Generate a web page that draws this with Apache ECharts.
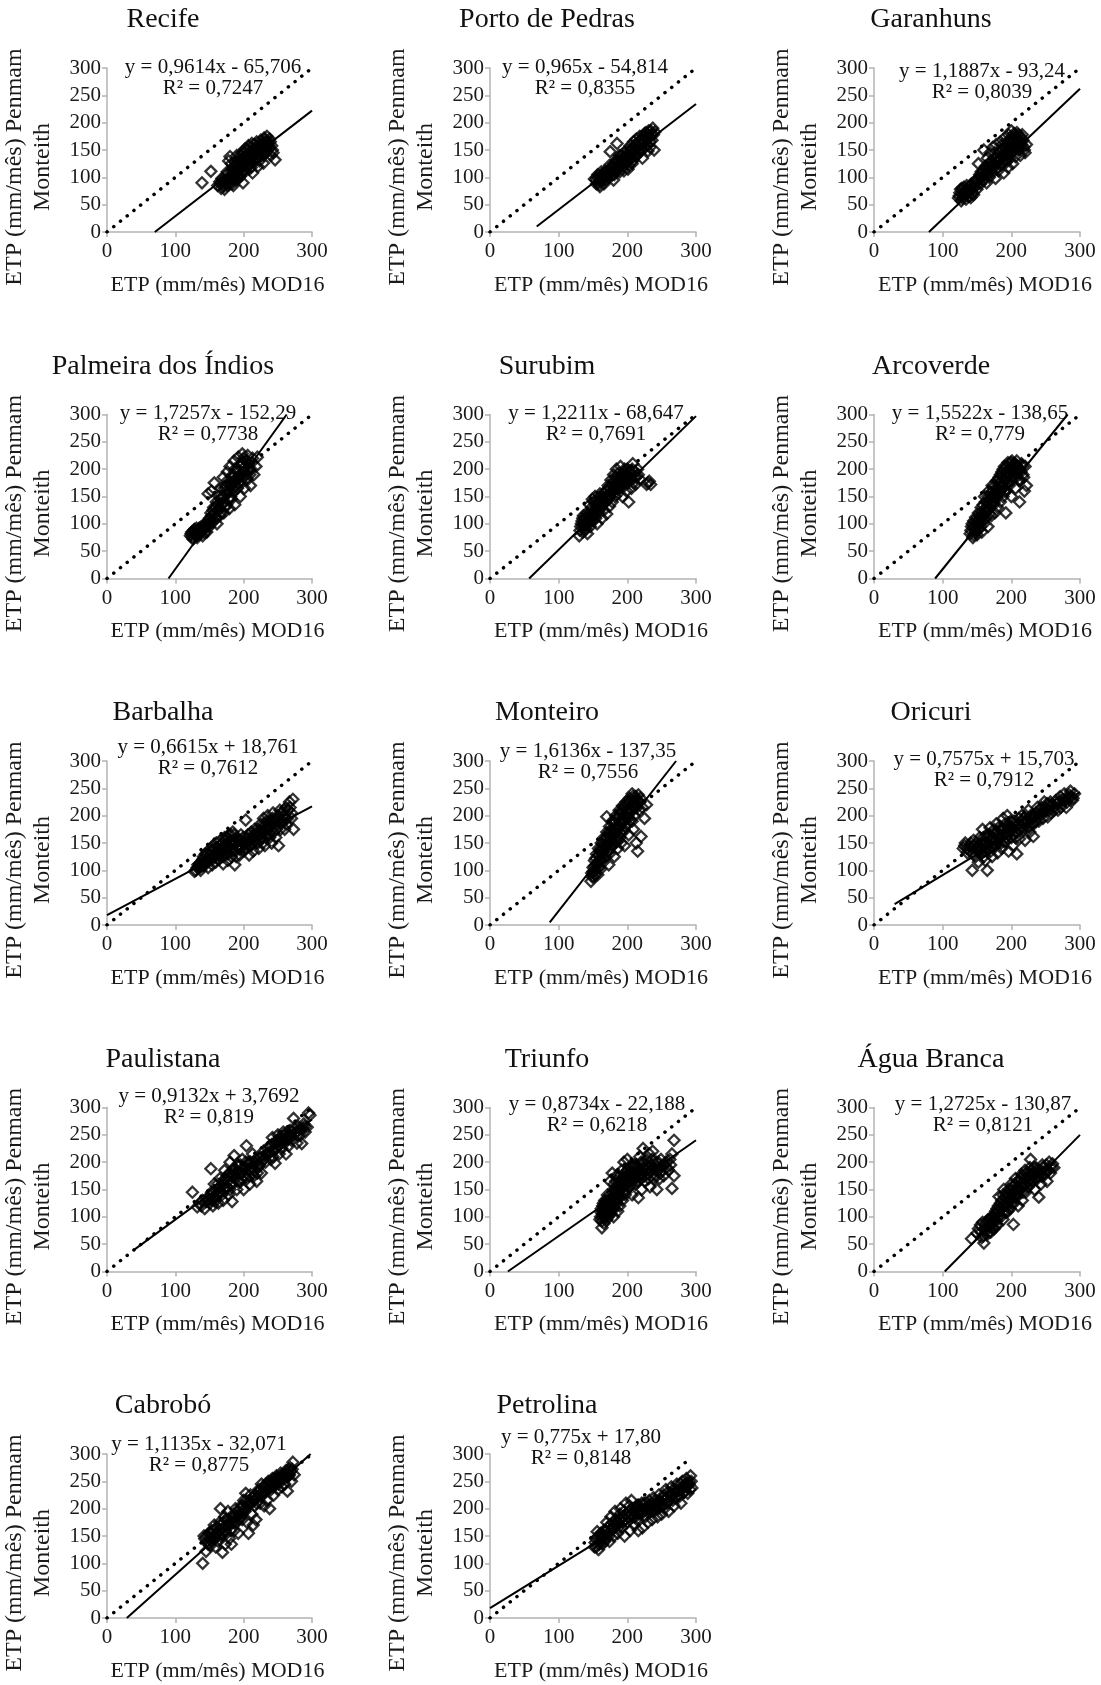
<!DOCTYPE html>
<html lang="pt">
<head>
    <meta charset="UTF-8">
    <title>ETP MOD16 x Penman-Monteith</title>
    <script src="https://cdn.jsdelivr.net/npm/echarts@6.0.0/dist/echarts.min.js"></script>
    <style>
        html, body { margin: 0; padding: 0; background: #fff; }
        #chart-container { width: 1101px; height: 1685px; }
    </style>
</head>
<body>
<div id="chart-container"></div>

<script>
    // estações (ordem dos painéis)
    var stations = ["Recife", "Porto de Pedras", "Garanhuns",
        "Palmeira dos Índios", "Surubim", "Arcoverde",
        "Barbalha", "Monteiro", "Oricuri",
        "Paulistana", "Triunfo", "Água Branca",
        "Cabrobó", "Petrolina"];

    var equations = [
        ["y = 0,9614x - 65,706", "R² = 0,7247"],
        ["y = 0,965x - 54,814", "R² = 0,8355"],
        ["y = 1,1887x - 93,24", "R² = 0,8039"],
        ["y = 1,7257x - 152,29", "R² = 0,7738"],
        ["y = 1,2211x - 68,647", "R² = 0,7691"],
        ["y = 1,5522x - 138,65", "R² = 0,779"],
        ["y = 0,6615x + 18,761", "R² = 0,7612"],
        ["y = 1,6136x - 137,35", "R² = 0,7556"],
        ["y = 0,7575x + 15,703", "R² = 0,7912"],
        ["y = 0,9132x + 3,7692", "R² = 0,819"],
        ["y = 0,8734x - 22,188", "R² = 0,6218"],
        ["y = 1,2725x - 130,87", "R² = 0,8121"],
        ["y = 1,1135x - 32,071", "R² = 0,8775"],
        ["y = 0,775x + 17,80", "R² = 0,8148"]
    ];

    // linhas de tendência (extremos)
    var trendLines = [
        [[70, 0], [300, 222]],
        [[68, 10], [300, 234]],
        [[80, 0], [300, 262]],
        [[90, 0], [263, 300]],
        [[57, 0], [300, 297]],
        [[89, 0], [282, 300]],
        [[0, 18], [300, 217]],
        [[87, 5], [271, 300]],
        [[30, 38], [300, 243]],
        [[40, 40], [300, 278]],
        [[26, 0], [300, 240]],
        [[103, 0], [300, 250]],
        [[29, 0], [298, 300]],
        [[0, 18], [290, 243]]
    ];

    // linha 1:1
    var oneToOne = [
        [[0, 0], [300, 300]], [[0, 0], [300, 300]], [[0, 0], [300, 300]],
        [[0, 0], [300, 300]], [[0, 0], [300, 300]], [[0, 0], [300, 300]],
        [[0, 0], [300, 300]], [[0, 0], [300, 300]], [[0, 0], [300, 300]],
        [[0, 0], [300, 300]], [[0, 0], [300, 300]], [[0, 0], [300, 300]],
        [[0, 0], [300, 300]], [[0, 0], [290, 290]]
    ];

    // pontos [MOD16, Penman-Monteith]
    var recife = [[139,90],[152,111],[162,85],[165,92],[167,80],[168,98],[170,88],[172,78],[173,95],[175,105],[176,85],[178,92],[178,130],[180,100],[180,138],[182,110],[183,88],[185,118],[186,97],[187,128],[188,105],[190,140],[190,112],[192,120],[193,98],[195,130],[196,108],[197,145],[198,118],[199,90],[200,125],[201,135],[202,152],[203,112],[205,140],[206,122],[207,158],[208,130],[210,148],[211,118],[212,162],[213,108],[214,138],[215,152],[216,128],[218,145],[219,165],[220,135],[221,120],[222,155],[224,148],[225,168],[226,140],[228,160],[229,126],[230,172],[231,150],[233,165],[234,175],[236,158],[238,170],[240,140],[242,150],[246,132],
        [166,88],[169,93],[171,84],[174,90],[177,98],[179,87],[181,95],[183,103],[184,115],[186,108],[188,122],[189,95],[191,105],[192,132],[194,115],[195,102],[197,125],[198,135],[200,112],[201,145],[203,128],[204,118],[205,150],[207,138],[208,115],[209,125],[210,155],[212,140],[213,130],[215,145],[216,160],[217,135],[219,150],[220,158],[222,140],[223,130],[225,155],[226,162],[227,148],[229,140],[230,158],[232,168],[233,145],[235,162],[237,152],[239,165],[241,158],[243,145],[185,85],[176,110],[182,125],[195,140]];
    var portoPedras = [[152,97],[155,88],[157,105],[158,92],[160,100],[160,83],[162,110],[163,95],[165,103],[166,88],[168,112],[170,98],[172,107],[175,147],[176,118],[178,104],[180,95],[180,125],[182,113],[184,132],[185,162],[186,120],[188,140],[189,110],[190,128],[192,135],[194,118],[195,145],[197,125],[198,138],[200,150],[201,115],[203,132],[204,158],[206,142],[207,125],[209,165],[210,150],[212,138],[213,170],[215,155],[217,145],[218,175],[220,160],[222,135],[223,168],[225,180],[226,155],[228,172],[230,148],[231,185],[233,165],[235,178],[237,190],[239,150],[240,183],
        [154,95],[156,100],[159,87],[161,93],[163,105],[164,98],[167,108],[169,95],[171,112],[173,100],[174,122],[177,110],[179,118],[181,105],[183,125],[185,112],[187,130],[189,120],[191,140],[193,128],[195,112],[196,135],[199,128],[200,140],[202,122],[203,148],[205,135],[207,152],[208,130],[210,158],[211,145],[213,160],[214,140],[216,165],[218,150],[219,162],[221,170],[222,152],[224,175],[226,165],[227,182],[229,160],[230,178],[232,172],[234,185],[236,168],[238,178],[233,155]];
    var garanhuns = [[123,62],[125,72],[127,57],[128,80],[130,67],[132,75],[134,60],[135,85],[137,70],[139,78],[141,63],[142,88],[144,72],[146,82],[148,95],[150,78],[152,125],[153,100],[155,88],[156,110],[158,95],[160,150],[161,105],[162,120],[164,90],[165,135],[166,112],[168,100],[169,145],[170,125],[172,108],[173,155],[174,118],[176,135],[177,98],[178,160],[180,128],[181,112],[182,145],[184,165],[185,122],[186,138],[188,150],[189,108],[190,172],[191,130],[193,160],[194,142],[195,118],[196,178],[197,152],[198,135],[200,185],[201,165],[202,125],[203,148],[205,175],[206,138],[207,160],[208,182],[210,150],[211,170],[213,140],[214,165],[216,178],[218,155],[220,145],[222,160],
        [124,66],[126,78],[129,62],[131,82],[133,70],[136,76],[138,65],[140,85],[143,80],[145,68],[147,90],[149,85],[151,95],[154,105],[157,100],[159,112],[160,95],[163,115],[165,105],[167,125],[168,118],[171,130],[172,115],[175,125],[176,145],[179,135],[180,118],[183,130],[184,150],[186,125],[187,160],[189,140],[190,155],[192,148],[193,128],[195,165],[196,140],[198,160],[199,172],[200,145],[202,170],[203,158],[204,180],[206,155],[207,170],[209,162],[210,178],[212,152],[213,175],[215,160],[217,168],[219,150]];
    var palmeira = [[122,78],[124,85],[126,72],[128,90],[130,80],[132,75],[134,88],[136,82],[138,95],[140,78],[142,90],[144,100],[146,85],[148,155],[149,108],[150,95],[152,120],[153,160],[154,102],[156,130],[157,175],[158,112],[160,140],[161,100],[163,125],[164,150],[165,115],[167,165],[168,135],[170,185],[171,120],[172,150],[174,170],[175,135],[176,195],[178,158],[179,128],[180,205],[181,175],[182,145],[184,190],[185,160],[186,215],[187,135],[188,180],[190,200],[191,165],[192,222],[194,185],[195,150],[196,210],[197,175],[198,228],[200,195],[201,165],[203,215],[205,180],[206,225],[208,200],[210,170],[212,212],[215,190],[218,205],[220,222],
        [123,82],[125,76],[127,88],[129,84],[131,92],[133,80],[135,92],[137,86],[139,88],[141,96],[143,84],[145,94],[147,100],[150,110],[151,102],[153,115],[155,125],[157,118],[159,130],[160,110],[162,135],[164,128],[166,145],[167,120],[169,150],[170,140],[172,165],[173,130],[175,160],[177,180],[178,145],[180,170],[181,150],[183,185],[184,165],[186,175],[187,200],[189,170],[190,185],[192,195],[193,175],[195,205],[196,190],[198,212],[199,185],[200,220],[202,205],[204,190],[205,215],[207,210],[209,190],[211,200],[213,220]];
    var surubim = [[130,78],[132,95],[134,105],[135,85],[136,115],[138,92],[140,100],[141,120],[142,82],[144,108],[145,135],[146,95],[148,125],[149,145],[150,105],[152,115],[153,150],[155,130],[156,100],[158,140],[159,120],[160,155],[162,135],[163,110],[165,148],[166,125],[168,160],[169,140],[170,118],[172,170],[173,150],[174,132],[176,180],[177,158],[178,140],[180,190],[181,168],[182,150],[184,200],[185,175],[186,155],[188,185],[189,165],[190,205],[192,178],[193,150],[195,195],[196,170],[198,185],[199,160],[200,200],[202,140],[203,178],[205,195],[206,165],[208,210],[210,185],[212,172],[215,200],[218,182],[230,175],[234,172],
        [131,88],[133,100],[135,110],[137,98],[139,110],[140,90],[142,115],[143,100],[145,112],[147,105],[148,130],[150,118],[151,140],[153,125],[154,110],[156,140],[157,125],[159,148],[161,130],[162,145],[164,135],[166,155],[167,140],[169,150],[171,162],[172,145],[174,165],[175,150],[177,172],[179,160],[180,178],[182,165],[183,185],[185,165],[187,192],[188,175],[190,185],[191,170],[193,190],[194,180],[196,200],[197,180],[199,190],[201,175],[202,195],[204,185],[206,190],[207,200],[209,175],[211,195],[213,185],[216,190],[228,172],[232,178]];
    var arcoverde = [[140,82],[142,95],[144,75],[145,105],[147,88],[148,112],[150,80],[151,98],[152,120],[153,90],[155,108],[156,130],[157,85],[158,115],[160,100],[161,150],[162,125],[163,110],[165,140],[166,95],[167,160],[168,128],[170,145],[171,115],[172,170],[174,135],[175,155],[176,120],[178,178],[179,148],[180,130],[182,185],[183,160],[184,140],[186,195],[187,170],[188,150],[190,205],[191,180],[192,120],[193,160],[195,212],[196,190],[197,170],[199,200],[200,150],[201,215],[203,185],[205,205],[206,165],[208,215],[210,195],[212,140],[213,180],[215,210],[217,190],[219,160],[220,205],[222,170],
        [141,88],[143,100],[145,80],[146,95],[148,85],[149,102],[150,92],[152,108],[153,100],[154,115],[155,95],[157,122],[158,105],[159,135],[160,115],[162,140],[163,120],[164,130],[166,150],[167,138],[168,118],[169,155],[171,135],[172,150],[173,160],[175,140],[176,170],[177,158],[179,165],[180,180],[181,155],[183,175],[184,190],[185,165],[187,185],[188,200],[189,175],[190,160],[192,195],[193,185],[194,205],[195,175],[197,200],[198,190],[199,212],[200,180],[202,200],[203,210],[204,195],[206,210],[207,185],[209,205],[211,180],[212,200],[214,195],[216,205],[218,185]];
    var barbalha = [[128,98],[132,105],[135,112],[137,100],[140,120],[142,108],[144,130],[146,115],[148,105],[150,138],[152,122],[154,110],[155,145],[157,128],[159,115],[160,150],[162,135],[164,120],[166,155],[168,140],[170,112],[172,160],[173,130],[175,148],[177,118],[178,165],[180,140],[182,125],[184,170],[185,150],[187,110],[188,135],[190,160],[192,145],[194,128],[196,165],[198,150],[200,135],[203,192],[205,160],[208,128],[210,145],[215,165],[218,150],[220,175],[222,140],[225,185],[227,160],[229,195],[231,145],[233,178],[235,200],[237,165],[239,190],[241,150],[243,205],[245,180],[247,160],[249,195],[251,145],[253,210],[255,185],[258,200],[260,175],[262,215],[264,195],[267,225],[270,205],[272,230],[273,175],
        [130,100],[133,110],[136,105],[138,115],[139,108],[141,125],[143,115],[145,120],[147,130],[149,118],[151,128],[153,135],[154,120],[156,140],[158,125],[160,130],[161,142],[163,128],[165,145],[167,132],[169,150],[170,125],[171,145],[173,155],[174,138],[176,160],[177,130],[179,150],[181,165],[182,140],[183,155],[185,135],[186,165],[188,150],[189,125],[191,155],[193,140],[195,155],[197,140],[199,160],[201,148],[223,165],[226,175],[228,150],[230,185],[232,165],[234,190],[236,175],[238,160],[240,182],[242,195],[244,170],[246,190],[248,175],[250,200],[252,190],[254,175],[256,205],[257,190],[259,210],[261,195],[263,185],[265,210],[268,215],[270,195],
        [202,150],[204,140],[206,165],[207,152],[209,155],[211,170],[212,148],[213,158],[214,135],[216,175],[217,160],[219,168],[221,150],[224,172],[226,158],[229,170],[233,160],[236,185]];
    var monteiro = [[147,80],[148,95],[150,105],[151,88],[152,118],[153,100],[155,130],[156,110],[157,92],[158,140],[160,120],[161,102],[162,150],[163,132],[165,115],[166,160],[167,142],[168,125],[170,198],[170,170],[171,150],[172,135],[173,110],[174,180],[175,160],[176,142],[178,190],[179,168],[180,150],[181,125],[183,200],[184,178],[185,158],[186,140],[188,210],[189,188],[190,168],[191,150],[193,218],[194,195],[195,175],[196,145],[198,225],[199,205],[200,185],[202,165],[203,232],[204,212],[205,192],[207,240],[208,220],[209,175],[210,200],[212,235],[213,150],[214,215],[215,135],[216,238],[218,225],[220,162],[222,215],[225,195],[228,220],
        [149,88],[150,98],[152,108],[153,92],[154,122],[155,102],[157,115],[158,128],[159,105],[160,135],[161,118],[162,140],[163,125],[164,148],[165,132],[167,155],[168,140],[169,160],[170,145],[172,165],[173,150],[174,130],[175,172],[177,155],[178,175],[179,145],[180,185],[181,165],[182,190],[183,170],[184,152],[185,195],[186,175],[187,200],[188,180],[189,160],[190,205],[191,185],[192,210],[193,190],[194,170],[195,215],[196,200],[197,180],[198,210],[200,220],[201,195],[202,225],[203,205],[205,228],[206,210],[207,190],[208,235],[210,225],[211,215],[212,220],[213,230],[215,225],[217,210],[219,232]];
    var oricuri = [[130,140],[133,150],[136,132],[140,145],[143,100],[145,155],[148,125],[150,140],[152,115],[154,160],[156,130],[158,175],[160,148],[162,118],[164,165],[165,100],[167,138],[169,178],[170,155],[172,125],[174,168],[176,145],[178,185],[180,132],[182,160],[184,175],[186,140],[188,195],[190,152],[192,170],[194,200],[196,135],[198,180],[200,160],[202,145],[204,190],[206,170],[208,130],[210,185],[212,158],[215,200],[218,175],[220,155],[222,192],[225,210],[227,170],[230,185],[232,162],[235,200],[238,215],[240,190],[243,205],[246,195],[248,225],[250,210],[253,198],[256,220],[258,205],[262,215],[265,228],[268,210],[271,235],[274,222],[277,240],[280,215],[283,232],[286,245],[289,228],[292,240],
        [132,145],[135,140],[138,138],[141,150],[144,130],[146,145],[149,150],[151,135],[153,145],[155,150],[157,140],[159,160],[161,135],[163,150],[165,160],[166,145],[168,165],[171,145],[173,160],[175,175],[177,155],[179,170],[181,150],[183,180],[185,160],[187,175],[189,165],[191,185],[193,160],[195,180],[197,170],[199,190],[201,175],[203,165],[205,185],[207,180],[209,170],[211,195],[213,180],[216,190],[219,185],[221,200],[224,190],[226,180],[228,200],[231,195],[233,185],[236,205],[239,198],[241,210],[244,215],[247,205],[249,215],[252,222],[255,210],[257,225],[260,220],[263,210],[266,222],[269,225],[272,215],[275,230],[278,228],[281,225],[284,238],[287,235],[290,232],
        [155,135],[160,125],[164,140],[170,135],[175,150],[180,165],[185,150],[190,175],[195,165],[200,180],[206,160],[212,175],[218,195],[224,178],[230,200],[236,190]];
    var paulistana = [[125,145],[132,118],[136,125],[140,130],[143,115],[147,135],[150,125],[152,188],[153,145],[155,120],[157,160],[159,135],[161,150],[163,125],[165,170],[167,145],[169,160],[170,130],[172,185],[174,150],[176,175],[178,140],[180,200],[181,160],[183,128],[185,185],[186,212],[188,170],[190,150],[192,195],[194,165],[196,180],[198,205],[200,150],[202,190],[204,230],[205,170],[207,200],[209,160],[211,185],[213,215],[215,175],[217,198],[219,165],[221,190],[224,210],[226,180],[229,220],[232,200],[235,215],[238,230],[240,205],[242,245],[244,220],[246,198],[248,235],[250,250],[252,215],[254,240],[256,225],[258,255],[260,235],[262,215],[264,248],[266,230],[268,258],[270,240],[273,280],[275,252],[278,235],[280,265],[283,250],[285,234],[288,270],[290,255],[293,264],[295,290],[297,286],
        [138,120],[145,128],[149,130],[151,138],[154,130],[156,145],[158,128],[160,140],[162,160],[164,145],[166,155],[168,140],[170,165],[171,150],[173,170],[175,155],[177,165],[179,180],[180,150],[182,175],[184,160],[186,190],[187,175],[189,185],[191,165],[193,180],[195,195],[197,170],[199,190],[201,175],[203,200],[206,185],[208,175],[210,200],[212,190],[214,200],[216,185],[218,205],[220,180],[223,195],[225,200],[228,210],[230,205],[233,215],[236,225],[239,218],[241,232],[243,210],[245,235],[247,225],[249,240],[251,230],[253,245],[255,235],[257,240],[259,248],[261,240],[263,255],[265,242],[267,250],[269,248],[271,255],[274,262],[277,255],[279,250],[282,260],[286,262],[289,265]];
    var triunfo = [[160,95],[162,108],[163,80],[164,120],[165,100],[166,88],[167,130],[168,112],[170,95],[171,140],[172,120],[173,105],[175,165],[176,130],[177,112],[178,180],[179,145],[180,100],[181,160],[182,125],[184,175],[185,140],[186,110],[188,165],[190,150],[192,185],[193,130],[195,200],[196,160],[198,145],[200,205],[201,175],[203,155],[205,190],[207,140],[208,170],[210,195],[212,160],[214,180],[216,135],[218,210],[220,170],[221,150],[223,225],[224,190],[226,165],[228,205],[230,178],[232,215],[233,155],[235,195],[237,220],[239,170],[241,185],[243,150],[245,200],[248,180],[250,192],[253,175],[256,200],[260,185],[262,205],[265,152],[268,240],[268,175],[265,215],
        [161,100],[162,115],[164,105],[165,125],[166,112],[168,100],[169,125],[170,110],[171,130],[172,100],[174,120],[175,140],[176,105],[177,135],[178,125],[180,150],[181,115],[182,140],[183,165],[184,130],[186,150],[187,175],[188,140],[189,120],[190,165],[191,140],[193,170],[194,155],[196,180],[197,140],[199,165],[200,185],[202,160],[204,175],[206,195],[207,160],[209,180],[211,170],[213,195],[215,165],[217,185],[219,175],[220,200],[222,185],[225,175],[227,195],[229,190],[231,170],[234,185],[236,205],[238,190],[240,175],[242,200],[244,190],[247,170],[249,205],[251,185],[254,195],[258,190],[263,195],
        [163,92],[165,110],[167,118],[169,105],[171,118],[173,128],[174,110],[176,122],[178,135],[179,118],[181,130],[183,148],[185,125],[187,155],[189,135],[191,155],[193,145],[195,175],[198,170],[202,180],[205,170],[209,190],[214,190],[218,180],[223,200],[228,185]];
    var aguaBranca = [[142,60],[150,70],[155,85],[157,62],[160,52],[161,78],[163,90],[165,68],[167,82],[169,95],[170,72],[172,88],[174,100],[175,78],[177,110],[178,92],[180,85],[181,120],[182,137],[183,102],[185,115],[186,130],[188,95],[189,150],[190,122],[192,108],[193,140],[195,128],[196,150],[198,115],[199,135],[200,160],[202,125],[203,86],[204,145],[206,170],[207,135],[209,155],[210,120],[212,165],[213,145],[215,178],[216,130],[218,160],[220,185],[221,145],[223,170],[225,155],[227,190],[228,205],[230,165],[232,180],[234,150],[236,190],[238,170],[240,136],[241,185],[243,160],[245,195],[247,175],[250,185],[252,165],[255,200],[257,180],[260,197],[262,190],
        [152,78],[156,72],[158,90],[159,65],[162,85],[164,75],[166,95],[168,72],[170,88],[171,100],[173,80],[175,95],[176,105],[178,85],[179,115],[180,100],[182,110],[184,125],[185,100],[187,120],[188,140],[190,110],[191,135],[193,120],[194,145],[195,110],[197,140],[198,130],[200,150],[201,135],[203,155],[204,125],[205,160],[207,150],[208,140],[210,165],[211,150],[213,170],[214,155],[216,175],[217,145],[219,170],[220,160],[222,180],[224,165],[226,175],[228,160],[229,185],[231,175],[233,190],[235,170],[237,185],[239,175],[242,180],[244,175],[246,190],[249,180],[251,195],[254,185],[258,190]];
    var cabrobo = [[140,100],[142,150],[145,122],[147,140],[149,155],[151,132],[153,160],[155,145],[157,170],[159,130],[161,155],[163,140],[165,175],[166,200],[167,150],[169,120],[170,165],[172,185],[173,135],[175,155],[177,195],[179,145],[180,170],[182,135],[184,185],[186,160],[188,200],[190,175],[192,155],[194,190],[196,205],[198,180],[200,215],[202,195],[203,228],[205,175],[207,155],[208,210],[210,225],[212,190],[214,170],[216,205],[218,180],[220,220],[222,235],[224,210],[226,245],[228,225],[230,205],[232,240],[234,215],[236,250],[238,200],[240,235],[242,255],[244,225],[246,245],[248,260],[250,235],[252,250],[254,265],[256,240],[258,258],[260,245],[262,270],[264,232],[266,260],[268,275],[270,250],[272,285],[274,262],
        [143,145],[146,150],[148,135],[150,148],[152,155],[154,140],[156,160],[158,150],[160,165],[162,150],[164,160],[166,170],[168,155],[171,175],[173,160],[174,180],[176,170],[178,180],[181,160],[183,175],[185,190],[187,175],[189,185],[191,195],[193,180],[195,200],[197,190],[199,205],[201,200],[204,215],[206,205],[209,215],[211,210],[213,220],[215,215],[217,225],[219,210],[221,230],[223,225],[225,235],[227,230],[229,240],[231,230],[233,245],[235,235],[237,245],[239,240],[241,248],[243,240],[245,255],[247,250],[249,255],[251,245],[253,258],[255,255],[257,262],[259,255],[261,262],[263,258],[265,270],[267,262],[269,268],[271,272]];
    var petrolina = [[152,130],[154,145],[156,158],[158,125],[160,140],[162,150],[164,135],[166,160],[168,145],[170,175],[172,155],[174,140],[176,185],[178,165],[180,150],[182,195],[184,170],[186,155],[188,180],[190,200],[192,165],[194,185],[196,150],[198,210],[200,175],[202,195],[204,160],[206,215],[208,185],[210,170],[212,200],[214,180],[216,160],[218,205],[220,190],[222,165],[224,210],[226,185],[228,200],[230,175],[232,215],[234,195],[236,180],[238,220],[240,200],[242,210],[244,185],[246,225],[248,205],[250,190],[252,220],[254,200],[256,235],[258,210],[260,195],[262,225],[264,240],[266,215],[268,205],[270,230],[272,245],[274,220],[276,235],[278,210],[280,250],[282,230],[284,240],[286,255],[288,228],[290,245],[292,260],[294,238],
        [153,138],[155,130],[157,148],[159,135],[161,155],[163,145],[165,150],[167,140],[169,160],[171,165],[173,150],[175,170],[177,160],[179,175],[181,165],[183,180],[185,175],[187,165],[189,190],[191,180],[193,175],[195,195],[197,180],[199,190],[201,185],[203,205],[205,190],[207,200],[209,195],[211,185],[213,205],[215,195],[217,190],[219,200],[221,210],[223,195],[225,200],[227,210],[229,195],[231,205],[233,200],[235,210],[237,205],[239,195],[241,215],[243,205],[245,200],[247,215],[249,212],[251,205],[253,225],[255,215],[257,220],[259,230],[261,215],[263,228],[265,225],[267,235],[269,220],[271,235],[273,232],[275,225],[277,245],[279,235],[281,240],[283,230],[285,245],[287,240],[289,250],[291,235],[293,250]];

    var points = [recife, portoPedras, garanhuns, palmeira, surubim, arcoverde,
        barbalha, monteiro, oricuri, paulistana, triunfo, aguaBranca, cabrobo, petrolina];

    // layout
    var colLeft = [106, 490, 874];
    var rowTop = [68, 414.5, 761, 1107.5, 1454];
    var plotW = 206, plotH = 164;
    // posição da equação: [dx do centro em relação ao eixo y, dy em relação ao topo]
    var eqPos = [[107, 0], [95, 0], [108, 4], [102, -1], [106, -1], [106, -1],
        [102, -13], [98, -9], [110, -1], [103, -11], [107, -3], [109, -3],
        [93, -9], [91, -16]];

    var serif = "Liberation Serif";
    var axisGray = "#b3b3b3";
    var textColor = "#1a1a1a";

    var grid = [], xAxis = [], yAxis = [], series = [], graphic = [];

    stations.forEach(function (name, i) {
        var left = colLeft[i % 3];
        var top = rowTop[Math.floor(i / 3)];

        grid.push({ left: left, top: top, width: plotW, height: plotH });

        xAxis.push({
            type: "value", gridIndex: i, min: 0, max: 300, interval: 100,
            name: "ETP (mm/mês) MOD16", nameLocation: "middle", nameGap: 42,
            nameTextStyle: { fontFamily: serif, fontSize: 22, color: textColor, padding: [0, 0, 0, 16] },
            axisLine: { show: true, lineStyle: { color: axisGray, width: 1.5 } },
            axisTick: { show: true, length: 5, lineStyle: { color: axisGray, width: 1.5 } },
            axisLabel: { fontFamily: serif, fontSize: 21, color: textColor, margin: 9 },
            splitLine: { show: false }
        });

        yAxis.push({
            type: "value", gridIndex: i, min: 0, max: 300, interval: 50,
            name: "ETP (mm/mês) Penmam\nMonteith", nameLocation: "middle",
            nameRotate: 90, nameGap: 50,
            nameTextStyle: { fontFamily: serif, fontSize: 24, color: textColor, lineHeight: 28,
                padding: [0, 34, 0, 0] },
            axisLine: { show: true, lineStyle: { color: axisGray, width: 1.5 } },
            axisTick: { show: true, length: 5, lineStyle: { color: axisGray, width: 1.5 } },
            axisLabel: { fontFamily: serif, fontSize: 21, color: textColor, margin: 6 },
            splitLine: { show: false }
        });

        series.push({
            type: "scatter", xAxisIndex: i, yAxisIndex: i,
            data: points[i], symbol: "diamond", symbolSize: 11,
            itemStyle: { color: "rgba(0,0,0,0)", borderColor: "#000", borderWidth: 2.3 },
            silent: true, z: 2
        });
        series.push({
            type: "line", xAxisIndex: i, yAxisIndex: i,
            data: oneToOne[i], showSymbol: false, silent: true, z: 3,
            lineStyle: { color: "#000", width: 3.5, type: [0.1, 8.5], cap: "round" }
        });
        series.push({
            type: "line", xAxisIndex: i, yAxisIndex: i,
            data: trendLines[i], showSymbol: false, silent: true, z: 4,
            lineStyle: { color: "#000", width: 2 }
        });

        graphic.push({
            type: "text", x: left + 57, y: top - 48,
            style: { text: name, font: "28px " + serif, fill: "#111",
                textAlign: "center", textVerticalAlign: "middle" }
        });
        graphic.push({
            type: "text", x: left + eqPos[i][0], y: top + eqPos[i][1] - 11,
            style: { text: equations[i].join("\n"), font: "21px " + serif, fill: "#111",
                textAlign: "center", textVerticalAlign: "top", lineHeight: 21 }
        });
    });

    var option = {
        animation: false,
        backgroundColor: "#fff",
        textStyle: { fontFamily: serif },
        grid: grid,
        xAxis: xAxis,
        yAxis: yAxis,
        series: series,
        graphic: graphic
    };

    var chart = echarts.init(document.getElementById("chart-container"));
    chart.setOption(option);
</script>
</body>
</html>
